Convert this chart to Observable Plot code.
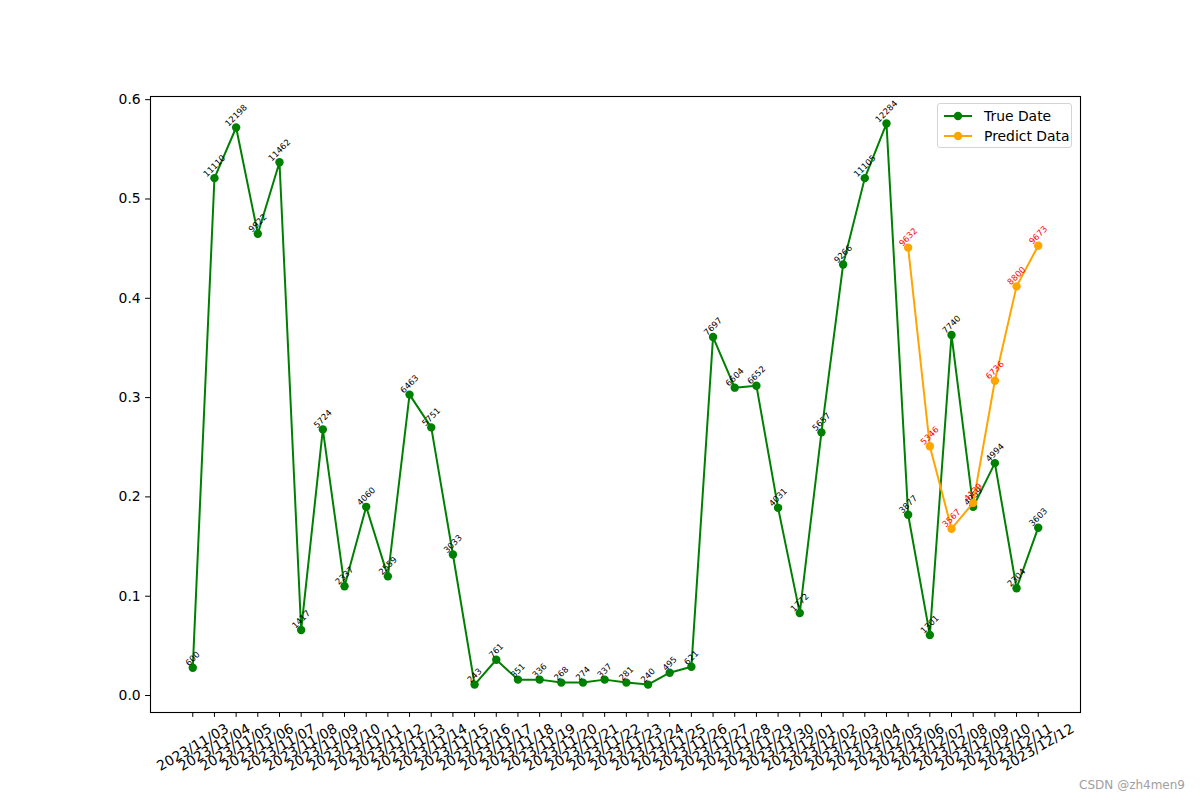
<!DOCTYPE html>
<html><head><meta charset="utf-8">
<script src="https://cdn.jsdelivr.net/npm/d3@7"></script>
<script src="https://cdn.jsdelivr.net/npm/@observablehq/plot@0.6"></script>
<style>
body{margin:0;background:#fff;font-family:"DejaVu Sans",sans-serif;}
#wrap{position:relative;width:1200px;height:800px;overflow:hidden;}
#legend{position:absolute;left:937px;top:103px;width:135px;height:45px;box-sizing:border-box;border:1px solid #d4d4d4;border-radius:3px;background:rgba(255,255,255,0.8);font-size:13.9px;color:#000;}
.row{position:absolute;left:5px;height:20px;display:flex;align-items:center;}
.row svg{width:30px;height:12px;margin-right:11px;}
#wm{position:absolute;right:15px;top:778px;font-size:12px;color:#a0a0a0;}
</style></head>
<body><div id="wrap"></div>
<script>
const dates = ["2023/11/03","2023/11/04","2023/11/05","2023/11/06","2023/11/07","2023/11/08","2023/11/09","2023/11/10","2023/11/11","2023/11/12","2023/11/13","2023/11/14","2023/11/15","2023/11/16","2023/11/17","2023/11/18","2023/11/19","2023/11/20","2023/11/21","2023/11/22","2023/11/23","2023/11/24","2023/11/25","2023/11/26","2023/11/27","2023/11/28","2023/11/29","2023/11/30","2023/12/01","2023/12/02","2023/12/03","2023/12/04","2023/12/05","2023/12/06","2023/12/07","2023/12/08","2023/12/09","2023/12/10","2023/12/11","2023/12/12"];
const trueValues = [0.028,0.521,0.572,0.465,0.537,0.066,0.268,0.110,0.190,0.120,0.303,0.270,0.142,0.011,0.036,0.016,0.016,0.013,0.013,0.016,0.013,0.011,0.023,0.029,0.361,0.310,0.312,0.189,0.083,0.265,0.434,0.521,0.576,0.182,0.061,0.363,0.190,0.234,0.108,0.169];
const trueLabels = [600,11110,12198,9922,11462,1417,5724,2337,4060,2559,6463,5751,3033,243,761,351,336,268,274,337,281,240,495,621,7697,6604,6652,4031,1772,5657,9266,11105,12284,3877,1301,7740,4059,4994,2304,3603];
const predictDates = ["2023/12/06","2023/12/07","2023/12/08","2023/12/09","2023/12/10","2023/12/11","2023/12/12"];
const predictValues = [0.451,0.251,0.168,0.194,0.317,0.412,0.453];
const predictLabels = [9632,5346,3567,4139,6736,8800,9673];
const yTicks = [0,0.1,0.2,0.3,0.4,0.5,0.6];

const trueData = dates.map((d,i)=>({i, v: trueValues[i], label: String(trueLabels[i])}));
const predData = predictDates.map((d,k)=>({i: dates.indexOf(d), v: predictValues[k], label: String(predictLabels[k])}));

function annot(data, color){
  const offs = {3:-9, 4:-10.5, 5:-12};
  return [3,4,5].map(n => Plot.text(data, {
    filter: d => d.label.length === n,
    x: "i", y: "v", text: "label", rotate: -45, textAnchor: "middle", lineAnchor: "middle",
    dy: offs[n], fontSize: 8.5, fill: color
  }));
}

const chart = Plot.plot({
  width: 1200, height: 800,
  marginLeft: 150, marginRight: 120, marginTop: 96, marginBottom: 88,
  style: {fontFamily: "DejaVu Sans", fontSize: "13.9px", color: "#000", background: "transparent"},
  x: {type: "linear", domain: [-1.95, 40.95], label: null},
  y: {domain: [-0.0171, 0.6032], label: null},
  marks: [
    Plot.axisY({ticks: yTicks, tickFormat: d3.format(".1f"), tickSize: 4.9, tickPadding: 4.9, label: null, fontSize: 13.9}),
    Plot.axisX({ticks: d3.range(dates.length), tickSize: 4.9, tickFormat: () => "", label: null}),
    Plot.text(dates, {x: (d,i)=>i, text: d=>d, frameAnchor: "bottom", rotate: -30, textAnchor: "middle", lineAnchor: "middle", dy: 35, fontSize: 13.9, fill: "#000"}),
    Plot.line(trueData, {x: "i", y: "v", stroke: "green", strokeWidth: 2}),
    Plot.dot(trueData, {x: "i", y: "v", r: 4.2, fill: "green"}),
    ...annot(trueData, "#000"),
    Plot.line(predData, {x: "i", y: "v", stroke: "orange", strokeWidth: 2}),
    Plot.dot(predData, {x: "i", y: "v", r: 4.2, fill: "orange"}),
    ...annot(predData, "red"),
    Plot.frame({stroke: "#000", strokeWidth: 1.1})
  ]
});
const wrap = document.getElementById("wrap");
wrap.appendChild(chart);

const legend = document.createElement("div");
legend.id = "legend";
const items = [["True Date","green"],["Predict Data","orange"]];
items.forEach(([name,col],k)=>{
  const r = document.createElement("div");
  r.className = "row";
  r.style.top = (2 + k*20) + "px";
  r.innerHTML = `<svg viewBox="0 0 30 12"><line x1="1" y1="6" x2="29" y2="6" stroke="${col}" stroke-width="2"/><circle cx="15" cy="6" r="4.2" fill="${col}"/></svg><span>${name}</span>`;
  legend.appendChild(r);
});
wrap.appendChild(legend);
const wm = document.createElement("div");
wm.id = "wm"; wm.textContent = "CSDN @zh4men9";
wrap.appendChild(wm);
</script>
</body></html>
